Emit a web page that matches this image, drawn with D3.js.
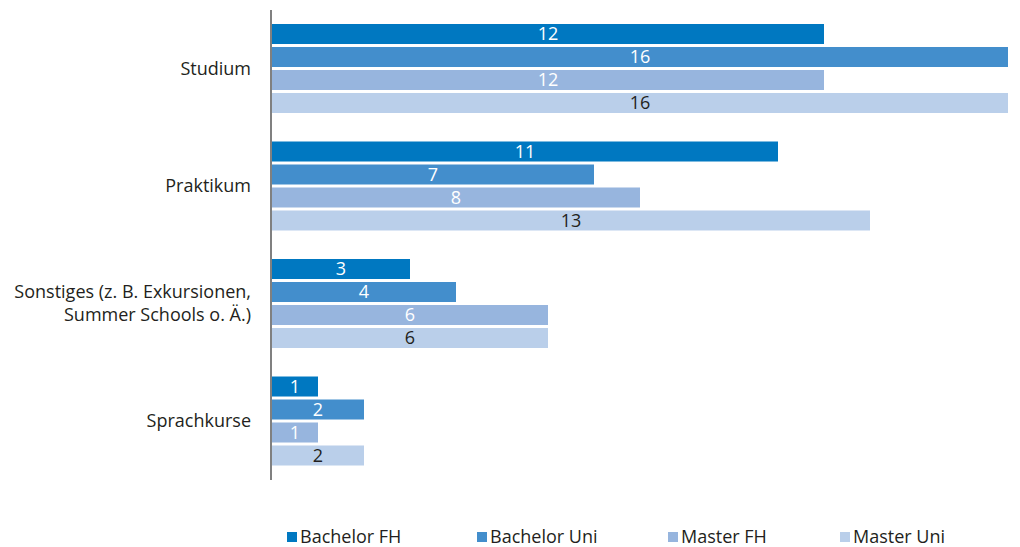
<!DOCTYPE html>
<html>
<head>
<meta charset="utf-8">
<script src="https://d3js.org/d3.v7.min.js"></script>
<style>
  body { margin: 0; background: #fff; }
  text { font-family: "Open Sans", Lato, sans-serif; }
</style>
</head>
<body>
<svg width="1020" height="547"></svg>
<script>
    var categories = ["Studium", "Praktikum", "Sonstiges (z. B. Exkursionen,|Summer Schools o. Ä.)", "Sprachkurse"];
    var seriesNames = ["Bachelor FH", "Bachelor Uni", "Master FH", "Master Uni"];
    var bachelorFH = [12, 11, 3, 1];
    var bachelorUni = [16, 7, 4, 2];
    var masterFH = [12, 8, 6, 1];
    var masterUni = [16, 13, 6, 2];
    var colors = ["#0078c1", "#438ecc", "#97b5de", "#bacfea"];
    var labelColors = ["#fff", "#fff", "#fff", "#231f20"];

    var series = [bachelorFH, bachelorUni, masterFH, masterUni];

    var svg = d3.select("svg");

    var x = d3.scaleLinear().domain([0, 16]).range([272, 1008]);
    var y0 = d3.scaleBand().domain(categories).range([24, 465.5]).paddingInner(0.2426);
    var y1 = d3.scaleBand().domain(seriesNames).range([0, y0.bandwidth()]).paddingInner(0.13);

    var groups = svg.selectAll(".group")
        .data(categories)
        .enter().append("g")
        .attr("class", "group")
        .attr("transform", function(d) { return "translate(0," + y0(d) + ")"; });

    groups.each(function(cat, ci) {
        var g = d3.select(this);
        var rows = seriesNames.map(function(s, si) { return {s: s, si: si, v: series[si][ci]}; });
        g.selectAll("rect")
            .data(rows)
            .enter().append("rect")
            .attr("x", x(0))
            .attr("y", function(d) { return y1(d.s); })
            .attr("width", function(d) { return x(d.v) - x(0); })
            .attr("height", y1.bandwidth())
            .attr("fill", function(d) { return colors[d.si]; });
        g.selectAll("text.val")
            .data(rows)
            .enter().append("text")
            .attr("class", "val")
            .attr("x", function(d) { return (x(0) + x(d.v)) / 2; })
            .attr("y", function(d) { return y1(d.s) + y1.bandwidth() / 2; })
            .attr("dy", "0.36em")
            .attr("text-anchor", "middle")
            .attr("font-size", 18)
            .attr("fill", function(d) { return labelColors[d.si]; })
            .text(function(d) { return d.v; });

        // category label
        var lines = cat.split("|");
        var cy = y0.bandwidth() / 2;
        var lab = g.append("text")
            .attr("text-anchor", "end")
            .attr("font-size", 18)
            .attr("fill", "#231f20");
        lines.forEach(function(l, i) {
            lab.append("tspan")
                .attr("x", 251)
                .attr("y", cy + (i - (lines.length - 1) / 2) * 23)
                .attr("dy", "0.36em")
                .text(l);
        });
    });

    // axis line
    svg.append("line")
        .attr("x1", 271).attr("x2", 271)
        .attr("y1", 10).attr("y2", 480)
        .attr("stroke", "#808080")
        .attr("stroke-width", 2);

    // legend
    var legendX = [287, 477, 668, 840];
    var legend = svg.selectAll(".legend")
        .data(seriesNames)
        .enter().append("g")
        .attr("class", "legend")
        .attr("transform", function(d, i) { return "translate(" + legendX[i] + ",537)"; });
    legend.append("rect")
        .attr("x", 0).attr("y", -5)
        .attr("width", 10).attr("height", 10)
        .attr("fill", function(d, i) { return colors[i]; });
    legend.append("text")
        .attr("x", 13)
        .attr("dy", "0.36em")
        .attr("font-size", 18)
        .attr("fill", "#231f20")
        .text(function(d) { return d; });
</script>
</body>
</html>
